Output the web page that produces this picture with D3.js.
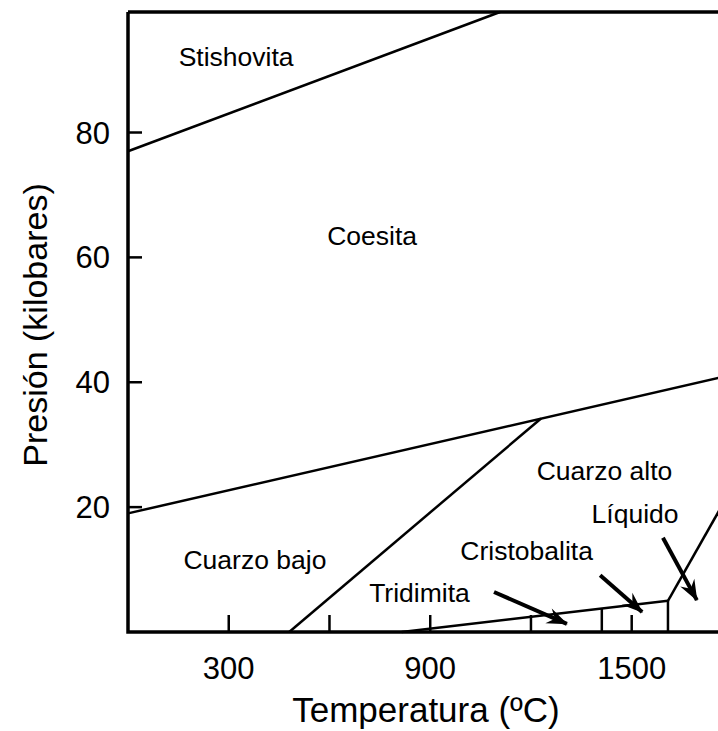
<!DOCTYPE html>
<html>
<head>
<meta charset="utf-8">
<script src="https://cdn.jsdelivr.net/npm/d3@7"></script>
<style>
  body { margin: 0; background: #fff; }
  svg { display: block; }
</style>
</head>
<body>
<svg id="chart" width="718" height="731"></svg>
<script>
// ticks
const xTicks = [300, 600, 900, 1200, 1500];
const xTickLabels = [300, 900, 1500];
const yTicks = [20, 40, 60, 80];

// phase boundaries (ºC, kbar)
const stishoviteCoesite = [[0, 77], [1108, 99.3]];
const coesiteQuartz = [[0, 19], [1800, 41.2]];
const lowHighQuartz = [[480, 0], [1230, 34.2]];
const tridymiteLine = [[815, 0], [1608, 5]];
const liquidusLine = [[1608, 5], [1800, 23.2]];
const verticalBounds = [
  [[1411, 0], [1411, 3.76]],
  [[1608, 0], [1608, 5]]
];

// field labels
const fieldNames = ["Stishovita", "Coesita", "Cuarzo bajo", "Cuarzo alto", "Líquido", "Cristobalita", "Tridimita"];
const fieldX = [322, 727, 378, 1419, 1510, 1187, 868];
const fieldY = [92.1, 63.4, 11.5, 25.8, 18.9, 13, 6.2];

// arrows: [from, to]
const arrows = [
  [[1090, 6.4], [1307, 1.3]],   // Tridimita
  [[1406, 9.1], [1531, 3.2]],   // Cristobalita
  [[1593, 15.1], [1694, 5.1]]   // Líquido
];

const svg = d3.select("#chart");
const font = "'Liberation Sans', Arial, sans-serif";

const x = d3.scaleLinear().domain([0, 1800]).range([128, 128 + 1800 * 0.3358]);
const y = d3.scaleLinear().domain([0, 99.3]).range([632, 12]);

const line = d3.line().x((d) => x(d[0])).y((d) => y(d[1]));

// arrowhead
svg.append("defs")
  .append("marker")
  .attr("id", "head")
  .attr("viewBox", "-21 -9 23 18")
  .attr("refX", 0)
  .attr("refY", 0)
  .attr("markerWidth", 23)
  .attr("markerHeight", 18)
  .attr("markerUnits", "userSpaceOnUse")
  .attr("orient", "auto")
  .append("path")
  .attr("d", "M1,0 L-20,-8 L-13,0 L-20,8 Z")
  .attr("fill", "black");

// boundaries
[stishoviteCoesite, coesiteQuartz, lowHighQuartz, tridymiteLine, liquidusLine, ...verticalBounds]
  .forEach((pts) => {
    svg.append("path")
      .attr("d", line(pts))
      .attr("fill", "none")
      .attr("stroke", "black")
      .attr("stroke-width", 2.5);
  });

// arrows
svg.selectAll(".arrow")
  .data(arrows)
  .enter()
  .append("path")
  .attr("class", "arrow")
  .attr("d", (d) => line(d))
  .attr("stroke", "black")
  .attr("stroke-width", 4)
  .attr("marker-end", "url(#head)");

// x ticks (inward)
svg.selectAll(".xtick")
  .data(xTicks)
  .enter()
  .append("line")
  .attr("x1", (d) => x(d))
  .attr("x2", (d) => x(d))
  .attr("y1", y(0))
  .attr("y2", y(0) - 17)
  .attr("stroke", "black")
  .attr("stroke-width", 2.5);

// y ticks (inward)
svg.selectAll(".ytick")
  .data(yTicks)
  .enter()
  .append("line")
  .attr("x1", x(0))
  .attr("x2", x(0) + 14)
  .attr("y1", (d) => y(d))
  .attr("y2", (d) => y(d))
  .attr("stroke", "black")
  .attr("stroke-width", 2.5);

// frame: left, bottom, top
svg.append("path")
  .attr("d", `M${x(0)},${y(99.3)} L${x(0)},${y(0)} L718,${y(0)}`)
  .attr("fill", "none")
  .attr("stroke", "black")
  .attr("stroke-width", 3.5);
svg.append("line")
  .attr("x1", x(0))
  .attr("x2", 718)
  .attr("y1", y(99.3))
  .attr("y2", y(99.3))
  .attr("stroke", "black")
  .attr("stroke-width", 3.5);

// tick labels
svg.selectAll(".xlabel")
  .data(xTickLabels)
  .enter()
  .append("text")
  .text((d) => d)
  .attr("x", (d) => x(d))
  .attr("y", y(0) + 47)
  .attr("font-family", font)
  .attr("font-size", 31)
  .attr("text-anchor", "middle");

svg.selectAll(".ylabel")
  .data(yTicks)
  .enter()
  .append("text")
  .text((d) => d)
  .attr("x", x(0) - 18)
  .attr("y", (d) => y(d) + 11)
  .attr("font-family", font)
  .attr("font-size", 31)
  .attr("text-anchor", "end");

// field labels
svg.selectAll(".field")
  .data(fieldNames)
  .enter()
  .append("text")
  .text((d) => d)
  .attr("x", (d, i) => x(fieldX[i]))
  .attr("y", (d, i) => y(fieldY[i]))
  .attr("font-family", font)
  .attr("font-size", 26.5)
  .attr("text-anchor", "middle")
  .attr("dominant-baseline", "central");

// axis titles
svg.append("text")
  .text("Temperatura (ºC)")
  .attr("x", 426)
  .attr("y", 722)
  .attr("font-family", font)
  .attr("font-size", 35)
  .attr("text-anchor", "middle");

svg.append("text")
  .text("Presión (kilobares)")
  .attr("transform", "translate(35,325) rotate(-90)")
  .attr("font-family", font)
  .attr("font-size", 34)
  .attr("text-anchor", "middle")
  .attr("dominant-baseline", "central");
</script>
</body>
</html>
